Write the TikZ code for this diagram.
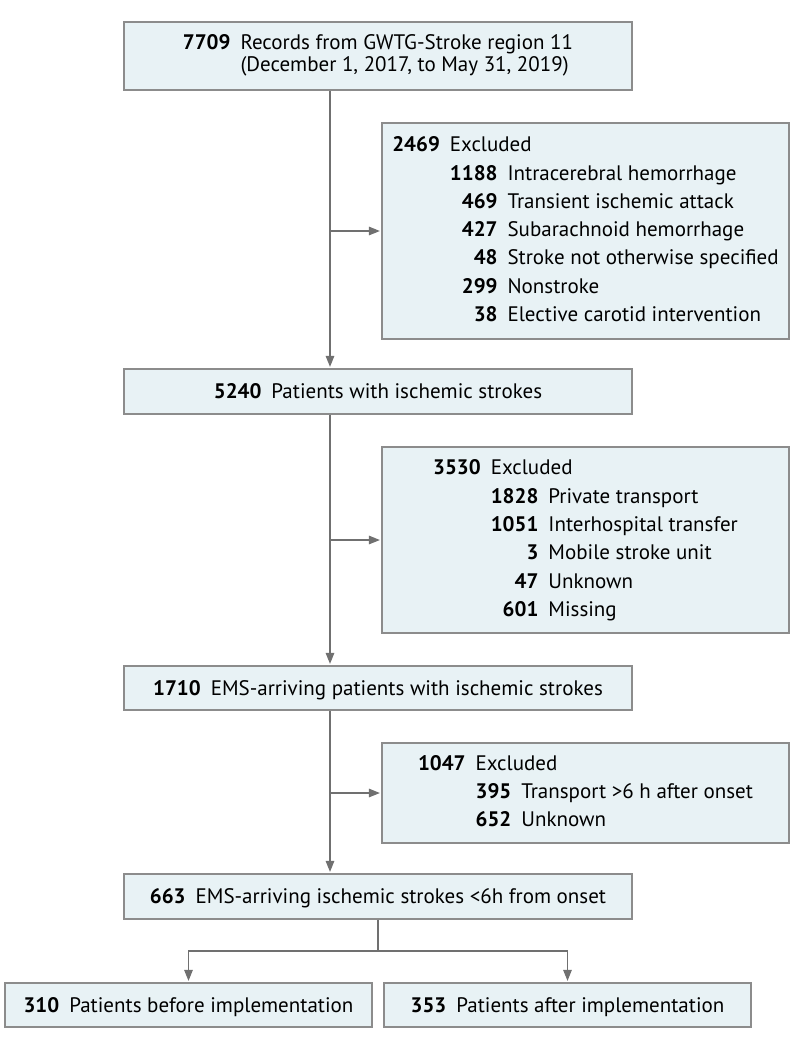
\documentclass[tikz,border=0pt]{standalone}
\usepackage{fontspec}
\setmainfont{PT Sans}
\usepackage{tikz}
\usetikzlibrary{arrows.meta}
\definecolor{boxfill}{RGB}{232,242,245}
\definecolor{boxline}{RGB}{140,140,140}
\definecolor{linkgray}{RGB}{112,112,112}
\tikzset{>={Triangle[length=11pt,width=8.5pt]}}
\tikzset{%
    flowbox/.style={%
        draw=boxline, fill=boxfill, line width=1.2pt, inner sep=0pt,
        minimum width=508pt, minimum height=#1,
        text height=14.5pt, text depth=0pt,
        font=\fontsize{21}{22.7}\selectfont
    },
    exclbox/.style={%
        draw=boxline, fill=boxfill, line width=1.2pt, inner sep=0pt,
        minimum width=407pt, minimum height=#1,
        font=\fontsize{21}{28.3}\selectfont
    },
    link/.style={draw=linkgray, line width=1.2pt, shorten >=1.5pt}
}

\begin{document}
\begin{tikzpicture}[x=1pt,y=-1pt]
    \useasboundingbox (0,0) rectangle (794,1049);
    % main column
    \node[flowbox=68pt,text height=,text depth=](rec) at (378,56) {%
        \begin{tabular}{@{}r@{\hspace{10pt}}l@{}}
        \textbf{7709} & Records from GWTG-Stroke region 11\\
                      & (December 1, 2017, to May 31, 2019)
        \end{tabular}};
    \node[flowbox=45pt](isch) at (378,391.5) {\textbf{5240}\hspace{10pt}Patients with ischemic strokes};
    \node[flowbox=44pt](ems) at (378,688) {\textbf{1710}\hspace{10pt}EMS-arriving patients with ischemic strokes};
    \node[flowbox=45pt](early) at (378,896.5) {\textbf{663}\hspace{10pt}EMS-arriving ischemic strokes <6h from onset};
    % the two periods
    \node[flowbox=44pt,minimum width=367pt](before) at (188.5,1005) {\textbf{310}\hspace{10pt}Patients before implementation};
    \node[flowbox=44pt,minimum width=367pt](after) at (567.5,1005) {\textbf{353}\hspace{10pt}Patients after implementation};
    % exclusions
    \node[exclbox=216pt](exA) at (585.5,231) {%
        \begin{tabular}{@{}r@{\hspace{10pt}}r@{\hspace{10pt}}l@{}}
        \textbf{2469} & \multicolumn{2}{@{}l@{}}{Excluded}\\
          & \textbf{1188} & Intracerebral hemorrhage\\
          & \textbf{469}  & Transient ischemic attack\\
          & \textbf{427}  & Subarachnoid hemorrhage\\
          & \textbf{48}   & Stroke not otherwise specified\\
          & \textbf{299}  & Nonstroke\\
          & \textbf{38}   & Elective carotid intervention
        \end{tabular}};
    \node[exclbox=186pt](exB) at (585.5,540) {%
        \begin{tabular}{@{}r@{\hspace{10pt}}r@{\hspace{10pt}}l@{}}
        \textbf{3530} & \multicolumn{2}{@{}l@{}}{Excluded}\\
          & \textbf{1828} & Private transport\\
          & \textbf{1051} & Interhospital transfer\\
          & \textbf{3}    & Mobile stroke unit\\
          & \textbf{47}   & Unknown\\
          & \textbf{601}  & Missing
        \end{tabular}};
    \node[exclbox=100pt](exC) at (585.5,793) {%
        \begin{tabular}{@{}r@{\hspace{10pt}}r@{\hspace{10pt}}l@{}}
        \textbf{1047} & \multicolumn{2}{@{}l@{}}{Excluded}\\
          & \textbf{395} & Transport >6 h after onset\\
          & \textbf{652} & Unknown
        \end{tabular}};
    % connectors
    \coordinate (spine) at (330,0);
    \draw[link,->] (rec.south -| spine) -- (isch.north -| spine);
    \draw[link,->] (isch.south -| spine) -- (ems.north -| spine);
    \draw[link,->] (ems.south -| spine) -- (early.north -| spine);
    \draw[link,->] (exA.west -| spine) -- (exA.west);
    \draw[link,->] (exB.west -| spine) -- (exB.west);
    \draw[link,->] (exC.west -| spine) -- (exC.west);
    \coordinate (split) at (378,951);
    \draw[link] (early.south) -- (split);
    \draw[link,->] (split) -| (before.north);
    \draw[link,->] (split) -| (after.north);
\end{tikzpicture}
\end{document}
